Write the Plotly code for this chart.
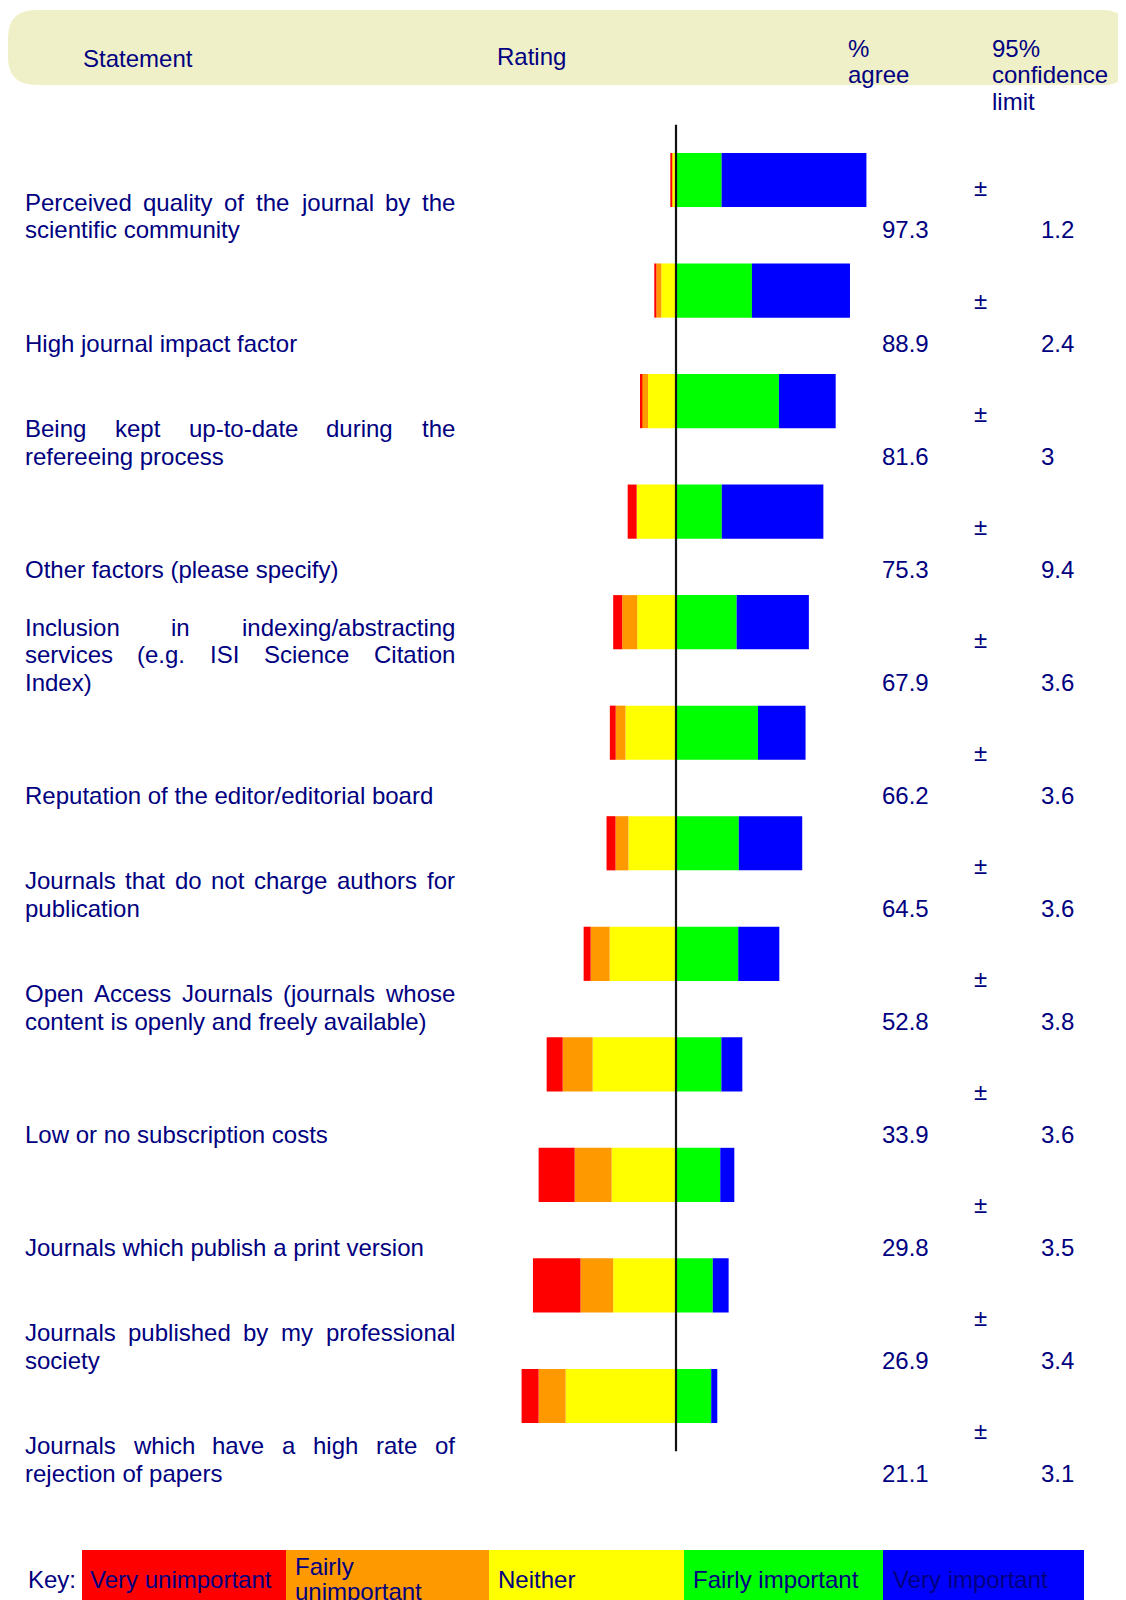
import plotly.graph_objects as go

W, H = 1126, 1600          # browser window
OFFX, OFFY = 8, 8          # default page margin of the html body
FW, FH = W - OFFX, H - OFFY
NAVY = "#000080"
FONT = "Liberation Sans, Arial, Helvetica, sans-serif"
FS = 24

# ---------------- data ----------------
statements = [
    "Perceived quality of the journal by the\nscientific community",
    "High journal impact factor",
    "Being kept up-to-date during the\nrefereeing process",
    "Other factors (please specify)",
    "Inclusion in indexing/abstracting\nservices (e.g. ISI Science Citation\nIndex)",
    "Reputation of the editor/editorial board",
    "Journals that do not charge authors for\npublication",
    "Open Access Journals (journals whose\ncontent is openly and freely available)",
    "Low or no subscription costs",
    "Journals which publish a print version",
    "Journals published by my professional\nsociety",
    "Journals which have a high rate of\nrejection of papers",
]
rating_labels = ["Very unimportant", "Fairly\nunimportant", "Neither", "Fairly important", "Very important"]
rating_colors = ["#FF0000", "#FF9900", "#FFFF00", "#00FF00", "#0000FF"]

very_unimportant = [0.7, 1.0, 1.0, 4.6, 4.6, 3.0, 4.6, 3.6, 8.2, 18.4, 24.3, 8.7]
fairly_unimportant = [0.0, 2.6, 3.1, 0.0, 7.7, 5.0, 6.6, 9.7, 15.3, 18.9, 16.7, 13.8]
neither = [2.0, 7.5, 14.3, 20.1, 19.8, 25.8, 24.3, 33.9, 42.6, 32.9, 32.1, 56.4]
fairly_important = [23.3, 38.8, 52.6, 23.4, 31.0, 41.9, 32.1, 31.8, 23.2, 22.6, 18.8, 18.0]
very_important = [74.0, 50.1, 29.0, 51.9, 36.9, 24.3, 32.4, 21.0, 10.7, 7.2, 8.1, 3.1]
pct_agree = [97.3, 88.9, 81.6, 75.3, 67.9, 66.2, 64.5, 52.8, 33.9, 29.8, 26.9, 21.1]
conf_limit = [1.2, 2.4, 3.0, 9.4, 3.6, 3.6, 3.6, 3.8, 3.6, 3.5, 3.4, 3.1]

header_statement = "Statement"
header_rating = "Rating"
header_agree = ["%", "agree"]
header_conf = ["95%", "confidence", "limit"]
key_label = "Key:"

# ---------------- geometry helpers (window pixels -> paper) ----------------
def px(x):
    return (x - OFFX) / FW

def py(y):
    return 1 - (y - OFFY) / FH

ZERO_PX = 676.0
PX_PER = 1.957
XR = [-100, 115]
X_DOM = [px(ZERO_PX + XR[0] * PX_PER), px(ZERO_PX + XR[1] * PX_PER)]

ROW0 = 180.0
PITCH = 110.545
n = len(statements)
Y_TOP = ROW0 - 0.5 * PITCH
Y_BOT = ROW0 + (n - 0.5) * PITCH
Y_DOM = [py(Y_BOT), py(Y_TOP)]

rows = list(range(n))

fig = go.Figure()

# negative side (stacks outward from zero): Neither, Fairly unimportant, Very unimportant
neg_series = [(neither, 2), (fairly_unimportant, 1), (very_unimportant, 0)]
for vals, ci in neg_series:
    fig.add_trace(go.Bar(
        x=[-v for v in vals], y=rows, orientation="h", width=0.49,
        marker=dict(color=rating_colors[ci], line=dict(width=0)),
        name=rating_labels[ci].replace("\n", " "), showlegend=False, hoverinfo="skip"))
pos_series = [(fairly_important, 3), (very_important, 4)]
for vals, ci in pos_series:
    fig.add_trace(go.Bar(
        x=vals, y=rows, orientation="h", width=0.49,
        marker=dict(color=rating_colors[ci], line=dict(width=0)),
        name=rating_labels[ci], showlegend=False, hoverinfo="skip"))

shapes = []
annotations = []

def txt(x, y, s, anchor="left", size=FS, color=NAVY):
    annotations.append(dict(
        x=px(x), y=py(y), xref="paper", yref="paper", text=s, showarrow=False,
        xanchor=anchor, yanchor="middle", borderpad=0, borderwidth=0,
        font=dict(family=FONT, size=size, color=color)))

# Arial / Liberation Sans advance widths (per 1000 em)
AW = {' ': 278, '(': 333, ')': 333, '.': 278, '/': 278, '-': 333, ',': 278, ':': 278, '%': 889}
for c, w in zip("abcdefghijklmnopqrstuvwxyz",
                [556, 556, 500, 556, 556, 278, 556, 556, 222, 222, 500, 222, 833,
                 556, 556, 556, 556, 333, 500, 278, 556, 500, 722, 500, 500, 500]):
    AW[c] = w
for c, w in zip("ABCDEFGHIJKLMNOPQRSTUVWXYZ",
                [667, 667, 722, 722, 667, 611, 778, 722, 278, 500, 667, 556, 833,
                 722, 778, 667, 778, 722, 667, 611, 722, 667, 944, 667, 667, 611]):
    AW[c] = w

def tw(s, size=FS):
    return sum(AW.get(c, 556) for c in s) * size / 1000.0

# header band (rounded)
hx0, hx1, hy0, hy1, r = 8, 1130, 10, 85, 28
path = (f"M {px(hx0 + r)} {py(hy0)} L {px(hx1 - r)} {py(hy0)} "
        f"Q {px(hx1)} {py(hy0)} {px(hx1)} {py(hy0 + r)} L {px(hx1)} {py(hy1 - r)} "
        f"Q {px(hx1)} {py(hy1)} {px(hx1 - r)} {py(hy1)} L {px(hx0 + r)} {py(hy1)} "
        f"Q {px(hx0)} {py(hy1)} {px(hx0)} {py(hy1 - r)} L {px(hx0)} {py(hy0 + r)} "
        f"Q {px(hx0)} {py(hy0)} {px(hx0 + r)} {py(hy0)} Z")
shapes.append(dict(type="path", path=path, xref="paper", yref="paper",
                   fillcolor="#F0F0C8", line=dict(width=0), layer="below"))

txt(83, 59, header_statement)
txt(497, 56, header_rating)
for k, s in enumerate(header_agree):
    txt(848, 48 + 26.5 * k, s)
for k, s in enumerate(header_conf):
    txt(992, 48 + 26.8 * k, s)

# statement column (justified) and value columns
LEFT, RIGHT = 25.0, 455.0
TROW0, TPITCH, LINE = 230.0, 113.04, 27.5
for i, st in enumerate(statements):
    lines = st.split("\n")
    ylast = TROW0 + TPITCH * i
    for k, line in enumerate(lines):
        yk = ylast - (len(lines) - 1 - k) * LINE
        words = line.split(" ")
        if k < len(lines) - 1 and len(words) > 1:
            widths = [tw(w) for w in words]
            gap = (RIGHT - LEFT - sum(widths)) / (len(words) - 1)
            xcur = LEFT
            for j, wd in enumerate(words):
                if j == len(words) - 1:
                    txt(RIGHT, yk, wd, anchor="right")
                else:
                    txt(xcur, yk, wd)
                xcur += widths[j] + gap
        else:
            txt(LEFT, yk, line)
    txt(882, ylast, f"{pct_agree[i]:g}")
    txt(980.5, ylast - 43, "±", anchor="center")
    txt(1041, ylast, f"{conf_limit[i]:g}")

# zero line drawn above the bars
shapes.append(dict(type="line", xref="x", yref="y domain", x0=0, x1=0, y0=0, y1=1,
                   line=dict(color="#111111", width=2.2), layer="above"))

# key
key_edges = [82, 286, 489, 684, 883, 1084]
key_text_x = [90, 295, 498, 693, 893]
txt(28, 1579, key_label)
for j, lab in enumerate(rating_labels):
    shapes.append(dict(type="rect", xref="paper", yref="paper",
                       x0=px(key_edges[j]), x1=px(key_edges[j + 1]),
                       y0=py(1606), y1=py(1550),
                       fillcolor=rating_colors[j], line=dict(width=0), layer="below"))
    parts = lab.split("\n")
    if len(parts) == 1:
        txt(key_text_x[j], 1579, parts[0])
    else:
        for k, p in enumerate(parts):
            txt(key_text_x[j], 1566 + 25 * k, p)

fig.update_layout(
    width=FW, height=FH, margin=dict(l=0, r=0, t=0, b=0),
    paper_bgcolor="white", plot_bgcolor="rgba(0,0,0,0)",
    barmode="relative", showlegend=False,
    xaxis=dict(domain=X_DOM, range=XR, showgrid=False, zeroline=False,
               showticklabels=False, ticks="", showline=False, fixedrange=True),
    yaxis=dict(domain=Y_DOM, range=[n - 0.5, -0.5], showgrid=False, zeroline=False,
               showticklabels=False, ticks="", showline=False, fixedrange=True),
    shapes=shapes, annotations=annotations,
    font=dict(family=FONT, color=NAVY),
)

fig.write_html("out.html")
